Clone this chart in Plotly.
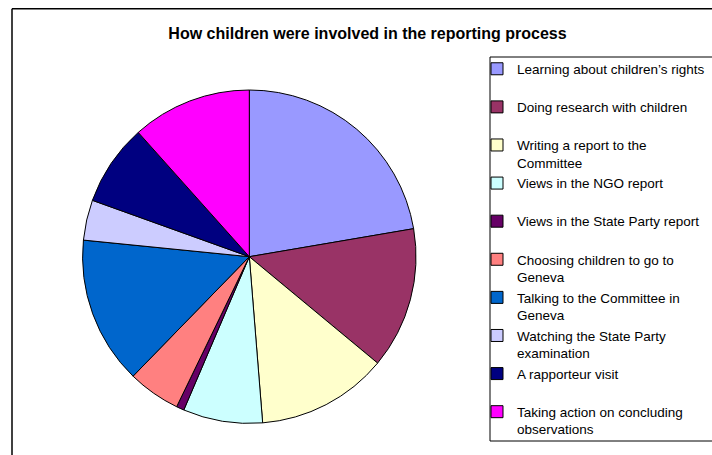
import plotly.graph_objects as go

labels = [
    "Learning about children’s rights",
    "Doing research with children",
    "Writing a report to the<br>Committee",
    "Views in the NGO report",
    "Views in the State Party report",
    "Choosing children to go to<br>Geneva",
    "Talking to the Committee in<br>Geneva",
    "Watching the State Party<br>examination",
    "A rapporteur visit",
    "Taking action on concluding<br>observations",
]
values = [22.3, 13.7, 12.7, 7.7, 0.75, 5.1, 14.3, 3.9, 7.9, 11.6]
colors = ["#9999FF", "#993366", "#FFFFCC", "#CCFFFF", "#660066",
          "#FF8080", "#0066CC", "#CCCCFF", "#000080", "#FF00FF"]

W, H = 712, 455


def px(x):
    return x / W


def py(y):
    return 1 - y / H


# make every legend entry two lines tall
legend_labels = [l if "<br>" in l else l + "<br> " for l in labels]

FONT = "Liberation Sans, Arial, sans-serif"

fig = go.Figure(go.Pie(
    labels=legend_labels,
    values=values,
    marker=dict(colors=colors, line=dict(color="black", width=1)),
    sort=False,
    direction="clockwise",
    rotation=0,
    textinfo="none",
    hoverinfo="skip",
    domain=dict(x=[px(82.6), px(416.0)], y=[py(423.4), py(90.0)]),
))


def seg(x0, y0, x1, y1, w):
    return dict(type="line", xref="paper", yref="paper",
                x0=x0, y0=y0, x1=x1, y1=y1,
                line=dict(color="black", width=w), layer="below")


fig.update_layout(
    width=W, height=H,
    margin=dict(l=0, r=0, t=0, b=0, autoexpand=False),
    paper_bgcolor="white",
    font=dict(family=FONT, color="black", size=13.5),
    title=dict(
        text="<b>How children were involved in the reporting process</b>",
        x=px(367.5), xanchor="center", y=py(33), yanchor="middle",
        font=dict(size=16, family=FONT, color="black"),
    ),
    legend=dict(
        x=px(477), xanchor="left", y=py(53.5), yanchor="top",
        bgcolor="rgba(0,0,0,0)", bordercolor="rgba(0,0,0,0)", borderwidth=0,
        valign="top", traceorder="normal", maxheight=1000,
        font=dict(size=13.5, family=FONT, color="black"),
    ),
    shapes=[
        # chart-area frame (left and top sides visible)
        seg(px(12), -0.1, px(12), py(8.75), 1.5),
        seg(px(12), py(8.75), 1.1, py(8.75), 1.5),
        # legend frame (left, top, bottom sides visible)
        seg(px(490), py(57), px(490), py(441), 1),
        seg(px(490), py(57), 1.1, py(57), 1),
        seg(px(490), py(441), 1.1, py(441), 1),
    ],
)

fig.write_html(
    "out.html",
    config={"displayModeBar": False},
    post_script="document.body.style.margin='0';document.body.style.overflow='hidden';",
)
